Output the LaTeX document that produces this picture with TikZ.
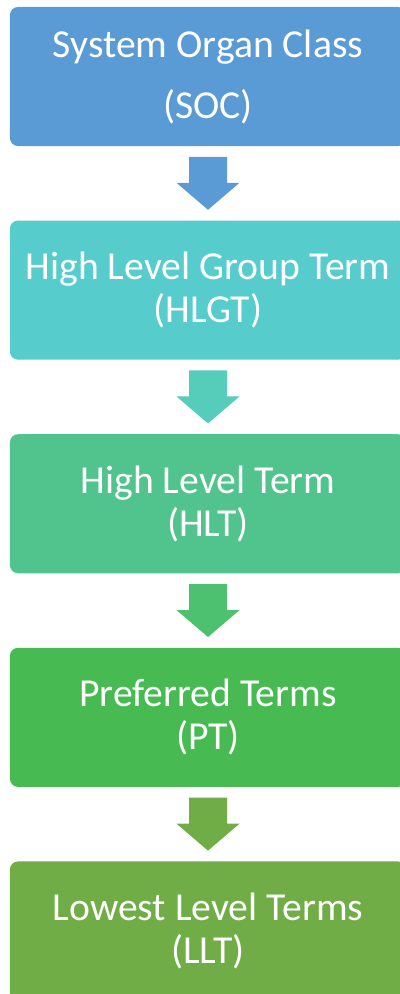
\documentclass[tikz,border=0pt]{standalone}
\usepackage{fontspec}
\usetikzlibrary{positioning,calc}
\newfontfamily\termfont{Carlito}
\definecolor{socblue}{HTML}{5B9BD5}
\definecolor{hlgtteal}{HTML}{56CCCD}
\definecolor{hltgreen}{HTML}{50C48C}
\definecolor{ptgreen}{HTML}{47BB51}
\definecolor{lltgreen}{HTML}{70AD47}
\definecolor{arrowteal}{HTML}{55CDBA}
\definecolor{arrowgreen}{HTML}{4DC170}

\begin{document}
\begin{tikzpicture}
  [x=0.025cm, y=-0.025cm,
    box/.style={rectangle, rounded corners=0.2cm,
    minimum width=9.9cm, minimum height=3.475cm,
    text=white, align=center,
    font=\termfont\fontsize{28.2}{30.6}\selectfont},
    node distance=1.85cm]
  \useasboundingbox (0,0) rectangle (400,994);
  \node[box, fill=socblue,
    font=\termfont\fontsize{28.2}{43.4}\selectfont] (soc) at (208,76.5)
    {System Organ Class\\(SOC)};
  \node[box, fill=hlgtteal, below=of soc] (hlgt)
    {High Level Group Term\\(HLGT)};
  \node[box, fill=hltgreen, below=of hlgt] (hlt)
    {High Level Term\\(HLT)};
  \node[box, fill=ptgreen, below=of hlt] (pt)
    {Preferred Terms\\(PT)};
  \node[box, fill=lltgreen, below=of pt] (llt)
    {Lowest Level Terms\\(LLT)};
  % block arrows between the levels
  \foreach \from/\to/\col in {soc/hlgt/socblue, hlgt/hlt/arrowteal,
    hlt/pt/arrowgreen, pt/llt/lltgreen}
    \fill[\col] ($(\from.south)!.5!(\to.north)$) ++(-19,-26.5)
      -- ++(38,0) -- ++(0,26) -- ++(12.5,0) -- ++(-31.5,27)
      -- ++(-31.5,-27) -- ++(12.5,0) -- cycle;
\end{tikzpicture}
\end{document}
